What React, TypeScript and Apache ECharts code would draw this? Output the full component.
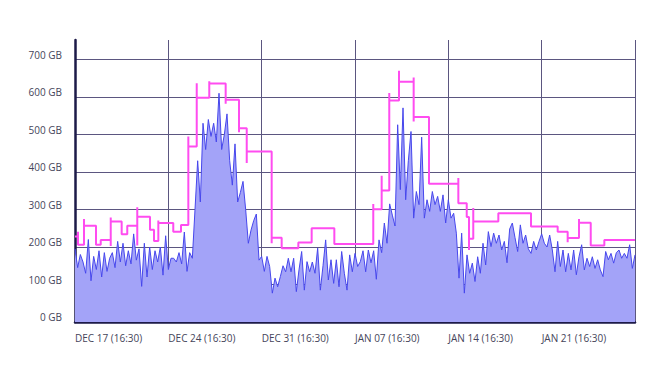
import React, { useEffect, useRef } from "react";
import * as echarts from "echarts";

// x in days since DEC 17 (16:30); blue samples every 0.2 day
const STEP_DAYS = 0.2;
const xTickLabels = [
  "DEC 17 (16:30)",
  "DEC 24 (16:30)",
  "DEC 31 (16:30)",
  "JAN 07 (16:30)",
  "JAN 14 (16:30)",
  "JAN 21 (16:30)",
  "",
];

const usageValues = [
  195, 145, 180, 160, 130, 220, 110, 175, 140, 190, 120, 185, 135, 170, 185, 145, 215, 160, 210, 150,
  190, 155, 235, 165, 195, 95, 210, 120, 200, 140, 190, 160, 200, 125, 230, 140, 170,
  170, 160, 185, 155, 240, 135, 185, 170, 300, 430, 320, 530, 460, 540, 495, 530, 480, 610, 460,
  500, 555, 430, 365, 475, 320, 345, 375, 300, 210, 245, 270, 288, 165, 175,
  135, 175, 148, 77, 117, 94, 121, 150, 134, 170, 134, 170, 81, 139, 188, 85, 161, 134, 160, 130,
  197, 85, 150, 219, 112, 166, 103, 166, 94, 188, 130, 85, 179, 134, 183, 148, 161, 190, 134, 192,
  158, 190, 114, 219, 185, 264, 210,
  315, 285, 256, 526, 353, 571, 326, 430, 508, 277, 348, 313, 493, 277, 326, 295, 348, 313, 335, 295,
  339, 264, 326, 277, 290, 237, 117, 237, 77, 179, 130, 157, 108, 174, 130, 210, 152, 241, 201, 237,
  210, 232, 192, 215, 158, 248,
  264, 225, 188, 259, 210, 232, 195, 183, 215, 192, 215, 235, 210, 200, 232, 192, 134, 215, 148, 192,
  134, 183, 139, 192, 126, 174, 206, 139, 170, 148, 174, 143, 166, 139, 121, 188, 166, 183, 157, 185,
  192, 170, 183, 170, 206, 143, 179,
];

// step line: [day, value] vertices
const capacityPoints: [number, number][] = [
  [0, 228], [0.225, 228], [0.225, 241], [0.225, 206], [0.675, 206], [0.675, 275], [0.675, 257],
  [1.575, 257], [1.575, 206], [1.93, 206], [1.93, 219], [2.68, 219], [2.68, 203], [2.68, 279],
  [2.68, 268], [3.5, 268], [3.5, 234], [3.92, 234], [3.92, 257], [4.67, 257], [4.67, 204],
  [4.67, 306], [4.67, 281], [5.625, 281], [5.625, 246], [5.925, 246], [5.925, 216], [6.25, 216],
  [6.25, 271], [6.25, 264], [7.37, 264], [7.37, 241], [7.95, 241], [7.95, 259], [8.5, 259],
  [8.5, 495], [8.5, 468], [9.13, 468], [9.13, 637], [9.13, 598], [10.07, 598], [10.07, 642],
  [10.07, 636], [11.3, 636], [11.3, 582], [11.3, 593], [12.3, 593], [12.3, 506], [12.3, 517],
  [12.88, 517], [12.88, 424], [12.88, 455], [14.75, 455], [14.75, 210], [14.75, 225], [15.5, 225],
  [15.5, 197], [16.75, 197], [16.75, 212], [17.75, 212], [17.75, 250], [19.45, 250], [19.45, 208],
  [22.37, 208], [22.37, 315], [22.37, 301], [23.0, 301], [23.0, 390], [23.0, 351], [23.57, 351],
  [23.57, 611], [23.57, 591], [24.3, 591], [24.3, 670], [24.3, 641], [25.4, 641], [25.4, 652],
  [25.4, 535], [25.4, 547], [26.55, 547], [26.55, 369], [28.75, 369], [28.75, 384], [28.75, 317],
  [29.38, 317], [29.38, 280], [29.55, 280], [29.55, 192], [29.55, 222], [29.87, 222], [29.87, 304],
  [29.87, 268], [31.75, 268], [31.75, 290], [34.2, 290], [34.2, 255], [36.2, 255], [36.2, 241],
  [36.95, 241], [36.95, 213], [36.95, 224], [37.8, 224], [37.8, 275], [37.8, 265], [38.68, 265],
  [38.68, 204], [39.7, 204], [39.7, 219], [42, 219],
];

const GRID_COLOR = "#5b5680";
const AXIS_COLOR = "#1d1a48";
const LABEL_COLOR = "#45455a";
const FONT = "'Open Sans', 'Noto Sans', sans-serif";

export default function App() {
  const ref = useRef<HTMLDivElement>(null);

  useEffect(() => {
    document.body.style.margin = "0";
    if (!ref.current) return;
    const chart = echarts.init(ref.current, undefined, { renderer: "svg" });
    const usageData = usageValues.map((v, i) => [i * STEP_DAYS, v]);
    chart.setOption({
      animation: false,
      backgroundColor: "#ffffff",
      grid: { left: 75, right: 32, top: 40, bottom: 52 },
      xAxis: {
        type: "value",
        min: 0,
        max: 42,
        interval: 7,
        axisLine: { show: true, onZero: false, lineStyle: { color: AXIS_COLOR, width: 2.5 } },
        axisTick: { show: false },
        splitLine: { show: true, lineStyle: { color: GRID_COLOR, width: 1 } },
        axisLabel: {
          color: LABEL_COLOR,
          fontFamily: FONT,
          fontSize: 10,
          align: "left",
          margin: 11,
          showMaxLabel: false,
          formatter: (v: number) => xTickLabels[Math.round(v / 7)] ?? "",
        },
      },
      yAxis: {
        type: "value",
        min: 0,
        max: 752,
        interval: 100,
        axisLine: { show: true, lineStyle: { color: AXIS_COLOR, width: 2.5 } },
        axisTick: { show: false },
        splitLine: { show: true, showMaxLine: false, lineStyle: { color: GRID_COLOR, width: 1 } },
        axisLabel: {
          color: LABEL_COLOR,
          fontFamily: FONT,
          fontSize: 10,
          margin: 13,
          verticalAlign: "bottom",
          showMaxLabel: false,
          formatter: (v: number) => (v % 100 === 0 ? `${v} GB` : ""),
        },
      },
      series: [
        {
          type: "line",
          data: usageData,
          symbol: "none",
          lineStyle: { color: "#4747ec", width: 1 },
          areaStyle: { color: "#a3a3f8", opacity: 1 },
          z: 2,
        },
        {
          type: "line",
          data: capacityPoints,
          symbol: "none",
          lineStyle: { color: "#ff4cf0", width: 2 },
          z: 3,
        },
      ],
    });
    return () => chart.dispose();
  }, []);

  return <div ref={ref} style={{ width: 667, height: 374 }} />;
}
